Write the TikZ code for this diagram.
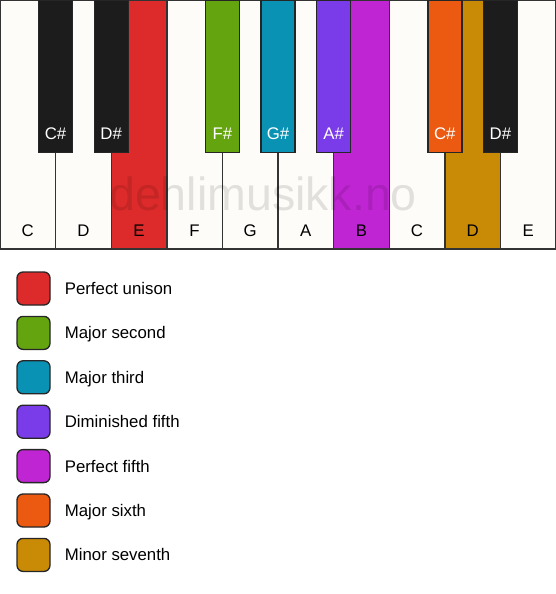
\documentclass[tikz,border=0pt]{standalone}
\usepackage{fontspec}
\setmainfont{Liberation Sans}
\usetikzlibrary{positioning}
\definecolor{keywhite}{HTML}{FDFCF9}
\definecolor{keyblack}{HTML}{1C1C1C}
\definecolor{unison}{HTML}{DD2A2A}
\definecolor{second}{HTML}{64A50F}
\definecolor{third}{HTML}{0A92B5}
\definecolor{dimfifth}{HTML}{7A3BE8}
\definecolor{fifth}{HTML}{C025D3}
\definecolor{sixth}{HTML}{EB5A10}
\definecolor{seventh}{HTML}{C98A06}
\tikzset{
	whitekey/.style={draw=black!80,line width=1.4pt,fill=keywhite,minimum width=55.6pt,minimum height=249pt,anchor=north west,inner sep=0pt,outer sep=0pt},
	blackkey/.style={draw=black!85,line width=1.4pt,fill=keyblack,minimum width=34pt,minimum height=152pt,anchor=north,inner sep=0pt},
	legendbox/.style={draw=black!85,line width=1.3pt,rounded corners=6pt,minimum size=33pt,inner sep=0pt},
	notetext/.style={font=\fontsize{16.8}{20}\selectfont,text height=12pt,text depth=0pt,inner sep=0pt},
}

\begin{document}
\begin{tikzpicture}[x=1pt,y=-1pt]
	\useasboundingbox (0,0) rectangle (556,594);
	\foreach \lab/\col [count=\i] in {C/keywhite,D/keywhite,E/unison,F/keywhite,G/keywhite,A/keywhite,B/fifth,C/keywhite,D/seventh,E/keywhite}{
		\node[whitekey,fill=\col] (w\i) at ({(\i-1)*55.6},0) {};
		\node[notetext] (wl\i) at ({(\i-0.5)*55.6},230.5) {\lab};
	}
	\node[font=\fontsize{46.5}{52}\selectfont,text=black,text opacity=0.11,inner sep=0pt] (mark) at (263,194) {dehlimusikk.no};
	\foreach \k/\lab/\col in {1/C\#/keyblack,2/D\#/keyblack,4/F\#/second,5/G\#/third,6/A\#/dimfifth,8/C\#/sixth,9/D\#/keyblack}{
		\node[blackkey,fill=\col] (b\k) at ({\k*55.6},0) {};
		\node[notetext,text=white] (bl\k) at ({\k*55.6},133) {\lab};
	}
	\foreach \col/\lab [count=\i] in {unison/Perfect unison,second/Major second,third/Major third,dimfifth/Diminished fifth,fifth/Perfect fifth,sixth/Major sixth,seventh/Minor seventh}{
		\node[legendbox,fill=\col] (box\i) at (33.5,{288.5+(\i-1)*44.4}) {};
		\node[notetext,right=14pt of box\i] (txt\i) {\lab};
	}
\end{tikzpicture}
\end{document}
